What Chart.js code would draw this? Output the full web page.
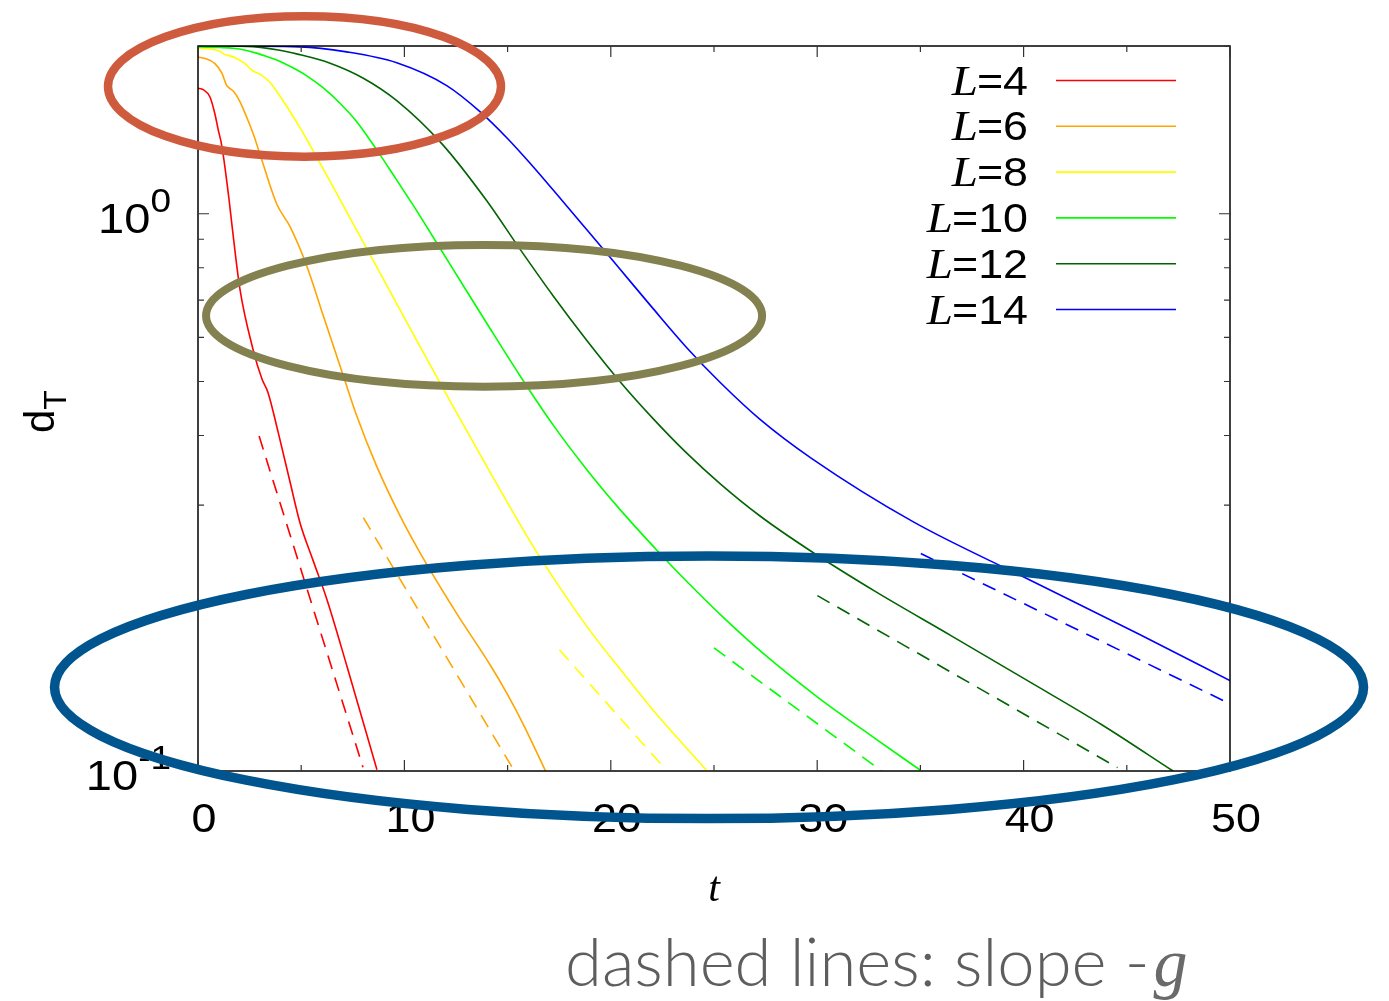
<!DOCTYPE html>
<html>
<head>
<meta charset="utf-8">
<title>d_T vs t</title>
<script src="https://cdn.jsdelivr.net/npm/chart.js@4.4.1/dist/chart.umd.min.js"></script>
<style>
  html, body { margin: 0; padding: 0; background: #ffffff; }
  #wrap { width: 1389px; height: 1001px; position: relative; }
</style>
</head>
<body>
<div id="wrap"><canvas id="c" width="1389" height="1001"></canvas></div>
<script>
// ---- data: d_T(t) for each system size L ----
const sizes = [4, 6, 8, 10, 12, 14];

const t_L4  = [0, 0.25, 0.58, 0.82, 0.97, 1.16, 1.5, 1.65, 2.03, 2.66, 3.10, 3.39, 3.88, 4.46, 4.94, 5.57, 6.25, 7.22, 8.67];
const d_L4  = [1.68, 1.67, 1.62, 1.51, 1.42, 1.32, 1.064, 0.951, 0.733, 0.572, 0.505, 0.478, 0.406, 0.330, 0.279, 0.239, 0.203, 0.154, 0.1005];

const t_L6  = [0, 0.34, 0.82, 1.15, 1.39, 1.52, 1.71, 2.03, 2.36, 2.68, 3.00, 3.81, 4.46, 5.27, 6.07, 7.04, 7.69, 8.66, 9.79, 10.92, 12.53, 14.15, 15.00, 15.76, 16.86];
const d_L6  = [1.91, 1.90, 1.86, 1.79, 1.70, 1.68, 1.66, 1.59, 1.49, 1.39, 1.28, 1.042, 0.948, 0.806, 0.656, 0.512, 0.434, 0.352, 0.287, 0.2405, 0.1918, 0.1551, 0.1371, 0.1213, 0.0996];

const t_L8  = [0, 0.58, 1.07, 1.31, 1.55, 1.87, 2.28, 2.60, 3.00, 3.49, 3.97, 4.46, 4.94, 5.34, 5.67, 6.56, 7.52, 8.33, 9.79, 10.76, 12.37, 13.99, 16.25, 17.38, 18.99, 20.61, 22.22, 24.63];
const d_L8  = [1.98, 1.975, 1.955, 1.93, 1.92, 1.90, 1.86, 1.81, 1.78, 1.72, 1.627, 1.526, 1.427, 1.345, 1.279, 1.115, 0.9594, 0.8451, 0.6724, 0.5776, 0.4504, 0.3522, 0.2524, 0.2176, 0.1786, 0.1498, 0.1264, 0.1004];

const t_L10 = [0, 1.23, 1.8, 2.19, 2.84, 3.33, 3.81, 4.13, 4.78, 5.27, 6.07, 6.88, 7.69, 8.66, 9.63, 10.43, 10.76, 12.37, 13.99, 15.60, 17.21, 18.83, 20.45, 22.38, 23.72, 25.54, 27.37, 29.92, 32.83, 35.02];
const d_L10 = [1.990, 1.987, 1.979, 1.969, 1.942, 1.916, 1.887, 1.865, 1.813, 1.768, 1.682, 1.579, 1.463, 1.302, 1.149, 1.035, 0.990, 0.794, 0.636, 0.512, 0.4175, 0.3477, 0.2945, 0.2457, 0.2181, 0.1873, 0.1627, 0.1366, 0.1142, 0.1002];

const t_L12 = [0, 2.36, 3.97, 4.78, 6.40, 8.01, 9.63, 11.81, 13.99, 15.60, 17.21, 18.83, 20.45, 22.06, 23.68, 25.29, 27.23, 29.74, 32.83, 36.48, 40.13, 43.77, 47.24];
const d_L12 = [2.0, 1.997, 1.965, 1.936, 1.863, 1.751, 1.596, 1.336, 1.055, 0.864, 0.712, 0.593, 0.4996, 0.4285, 0.3718, 0.3279, 0.2868, 0.2474, 0.2098, 0.1750, 0.1457, 0.1212, 0.1];

const t_L14 = [0, 4.94, 7.20, 9.63, 12.05, 13.66, 14.96, 16.09, 17.21, 18.83, 20.45, 22.06, 23.68, 25.29, 27.23, 29.74, 34.66, 40.13, 45.60, 50.02];
const d_L14 = [2.0, 1.993, 1.952, 1.866, 1.698, 1.525, 1.369, 1.232, 1.103, 0.937, 0.795, 0.675, 0.575, 0.4985, 0.4276, 0.3636, 0.2799, 0.2217, 0.1759, 0.1452];

// ---- exponential decay guides with slope -g (end points) ----
const fit_t_L4  = [2.96, 7.99];   const fit_d_L4  = [0.399, 0.1016];
const fit_t_L6  = [8.01, 15.2];   const fit_d_L6  = [0.285, 0.1018];
const fit_t_L8  = [17.51, 22.47]; const fit_d_L8  = [0.165, 0.1025];
const fit_t_L10 = [25.0, 33.11];  const fit_d_L10 = [0.1663, 0.1001];
const fit_t_L12 = [30.01, 44.55]; const fit_d_L12 = [0.2064, 0.1014];
const fit_t_L14 = [35.02, 50.0];  const fit_d_L14 = [0.2456, 0.132];

// ---- axis ticks ----
const xTicks = [0, 10, 20, 30, 40, 50];
const yTicks = [0.1, 1];
const yTickBase = ['10', '10'];
const yTickExp  = ['-1', '0'];

// ---- line colours per L ----
const lineColors = ['#ff0000', '#ffa500', '#ffff00', '#00ff00', '#006400', '#0000ff'];

const curveT = [t_L4, t_L6, t_L8, t_L10, t_L12, t_L14];
const curveD = [d_L4, d_L6, d_L8, d_L10, d_L12, d_L14];
const fitT = [fit_t_L4, fit_t_L6, fit_t_L8, fit_t_L10, fit_t_L12, fit_t_L14];
const fitD = [fit_d_L4, fit_d_L6, fit_d_L8, fit_d_L10, fit_d_L12, fit_d_L14];

const toXY = (ts, ds) => ts.map((t, i) => ({ x: t, y: ds[i] }));

const datasets = [];
sizes.forEach((L, i) => {
  datasets.push({
    label: 'L=' + L,
    data: toXY(curveT[i], curveD[i]),
    borderColor: lineColors[i],
    borderWidth: 1.6,
    pointRadius: 0,
    cubicInterpolationMode: 'monotone',
    isCurve: true
  });
});
sizes.forEach((L, i) => {
  datasets.push({
    label: 'slope L=' + L,
    data: toXY(fitT[i], fitD[i]),
    borderColor: lineColors[i],
    borderWidth: 1.6,
    borderDash: [14, 9],
    pointRadius: 0,
    isCurve: false
  });
});

// highlighted regions: centre (t, d_T), half-widths in t units and decades
const highlights = [
  { t: 5.16,  d: 1.692,  rt: 9.52,  rdec: 0.1259, color: '#cf5b3f', width: 8.5 },
  { t: 13.86, d: 0.656,  rt: 13.47, rdec: 0.1272, color: '#82814f', width: 8 },
  { t: 24.76, d: 0.1413, rt: 31.71, rdec: 0.2356, color: '#00558f', width: 9.5 }
];

const SANS = '"Liberation Sans", Arial, Helvetica, sans-serif';
const SERIF = '"Liberation Serif", "Times New Roman", serif';
const TEXT_SX = 1.12; // horizontal stretch of the plot lettering

// draw text with a horizontal stretch, anchored at its left edge
function stretchedText(ctx, str, left, base, sx) {
  ctx.save();
  ctx.translate(left, base);
  ctx.scale(sx, 1);
  ctx.textAlign = 'left';
  ctx.fillText(str, 0, 0);
  ctx.restore();
}

// frame, inward ticks and tick labels in gnuplot style
const axesPlugin = {
  id: 'gnuplotAxes',
  afterDatasetsDraw(chart) {
    const { ctx, chartArea: a, scales } = chart;
    const x = scales.x, y = scales.y;
    ctx.save();
    ctx.strokeStyle = '#000';
    ctx.lineWidth = 1.5;
    ctx.strokeRect(a.left, a.top, a.right - a.left, a.bottom - a.top);

    ctx.strokeStyle = '#333';
    ctx.lineWidth = 1.2;
    ctx.beginPath();
    const step = xTicks[1] - xTicks[0];
    for (let k = 0; k < xTicks.length; k++) {
      const marks = [[xTicks[k], 11]];
      if (k < xTicks.length - 1) marks.push([xTicks[k] + step / 2, 6]);
      marks.forEach(([t, len]) => {
        const px = x.getPixelForValue(t);
        ctx.moveTo(px, a.bottom); ctx.lineTo(px, a.bottom - len);
        ctx.moveTo(px, a.top); ctx.lineTo(px, a.top + len);
      });
    }
    yTicks.forEach((dec) => {
      for (let m = 1; m <= 9; m++) {
        const v = dec * m;
        if (v > y.max + 1e-9) break;
        const py = y.getPixelForValue(v);
        const len = m === 1 ? 11 : 6;
        ctx.moveTo(a.left, py); ctx.lineTo(a.left + len, py);
        ctx.moveTo(a.right, py); ctx.lineTo(a.right - len, py);
      }
    });
    ctx.stroke();

    ctx.fillStyle = '#000';
    ctx.textBaseline = 'alphabetic';
    ctx.font = '40px ' + SANS;
    xTicks.forEach((t) => {
      const s = String(t);
      const w = ctx.measureText(s).width * TEXT_SX;
      stretchedText(ctx, s, x.getPixelForValue(t) + 6 - w / 2, a.bottom + 61, TEXT_SX);
    });

    yTicks.forEach((v, i) => {
      const base = y.getPixelForValue(v) + 19;
      ctx.font = '33px ' + SANS;
      const we = ctx.measureText(yTickExp[i]).width * TEXT_SX;
      ctx.font = '42px ' + SANS;
      const wb = ctx.measureText(yTickBase[i]).width * TEXT_SX;
      const right = 171;
      stretchedText(ctx, yTickBase[i], right - we - wb, base, TEXT_SX);
      ctx.font = '33px ' + SANS;
      stretchedText(ctx, yTickExp[i], right - we, base - 21, TEXT_SX);
    });

    // axis titles
    ctx.font = 'italic 42px ' + SERIF;
    ctx.textAlign = 'center';
    ctx.fillText('t', (a.left + a.right) / 2, 901);

    ctx.save();
    ctx.translate(54, 433);
    ctx.rotate(-Math.PI / 2);
    ctx.textAlign = 'left';
    ctx.font = '42px ' + SANS;
    ctx.fillText('d', 0, 0);
    const wd = ctx.measureText('d').width;
    ctx.font = '32px ' + SANS;
    ctx.fillText('T', wd, 12);
    ctx.restore();

    ctx.restore();
  }
};

// key in the top right corner
const keyPlugin = {
  id: 'gnuplotKey',
  afterDatasetsDraw(chart) {
    const { ctx } = chart;
    const rows = chart.data.datasets.filter((d) => d.isCurve);
    ctx.save();
    ctx.fillStyle = '#000';
    ctx.textBaseline = 'alphabetic';
    rows.forEach((ds, i) => {
      const yy = 80.5 + i * 45.8;
      const rest = ds.label.slice(1);
      ctx.font = '40px ' + SANS;
      const wr = ctx.measureText(rest).width * TEXT_SX;
      stretchedText(ctx, rest, 1028 - wr, yy + 14, TEXT_SX);
      ctx.font = 'italic 42px ' + SERIF;
      const wl = ctx.measureText('L').width * TEXT_SX;
      stretchedText(ctx, 'L', 1028 - wr - wl + 1, yy + 14, TEXT_SX);
      ctx.strokeStyle = ds.borderColor;
      ctx.lineWidth = 1.6;
      ctx.beginPath();
      ctx.moveTo(1056, yy);
      ctx.lineTo(1176, yy);
      ctx.stroke();
    });
    ctx.restore();
  }
};

// ellipses marking regions of interest, and the caption
const notePlugin = {
  id: 'notes',
  afterDraw(chart) {
    const { ctx, scales } = chart;
    const x = scales.x, y = scales.y;
    ctx.save();
    highlights.forEach((h) => {
      const cx = x.getPixelForValue(h.t);
      const cy = y.getPixelForValue(h.d);
      const rx = x.getPixelForValue(h.t + h.rt) - cx;
      const ry = cy - y.getPixelForValue(h.d * Math.pow(10, h.rdec));
      ctx.beginPath();
      ctx.ellipse(cx, cy, rx, ry, 0, 0, Math.PI * 2);
      ctx.strokeStyle = h.color;
      ctx.lineWidth = h.width;
      ctx.stroke();
    });

    ctx.fillStyle = '#5e5e5e';
    ctx.textBaseline = 'alphabetic';
    ctx.textAlign = 'left';
    ctx.font = '300 67px Lato, "Open Sans", sans-serif';
    const cap = 'dashed lines: slope -';
    ctx.fillText(cap, 565, 986);
    const wc = ctx.measureText(cap).width;
    ctx.fillStyle = '#6a6a6a';
    ctx.font = 'italic 400 68px ' + SERIF;
    ctx.fillText('g', 565 + wc + 4, 986);
    ctx.restore();
  }
};

new Chart(document.getElementById('c'), {
  type: 'line',
  data: { datasets },
  options: {
    responsive: false,
    animation: false,
    devicePixelRatio: 1,
    layout: { padding: { left: 198, right: 159, top: 46, bottom: 230 } },
    scales: {
      x: { type: 'linear', min: 0, max: 50, display: false },
      y: { type: 'logarithmic', min: 0.1, max: 2, display: false }
    },
    plugins: {
      legend: { display: false },
      tooltip: { enabled: false }
    },
    elements: { line: { tension: 0 } }
  },
  plugins: [axesPlugin, keyPlugin, notePlugin]
});
</script>
</body>
</html>
